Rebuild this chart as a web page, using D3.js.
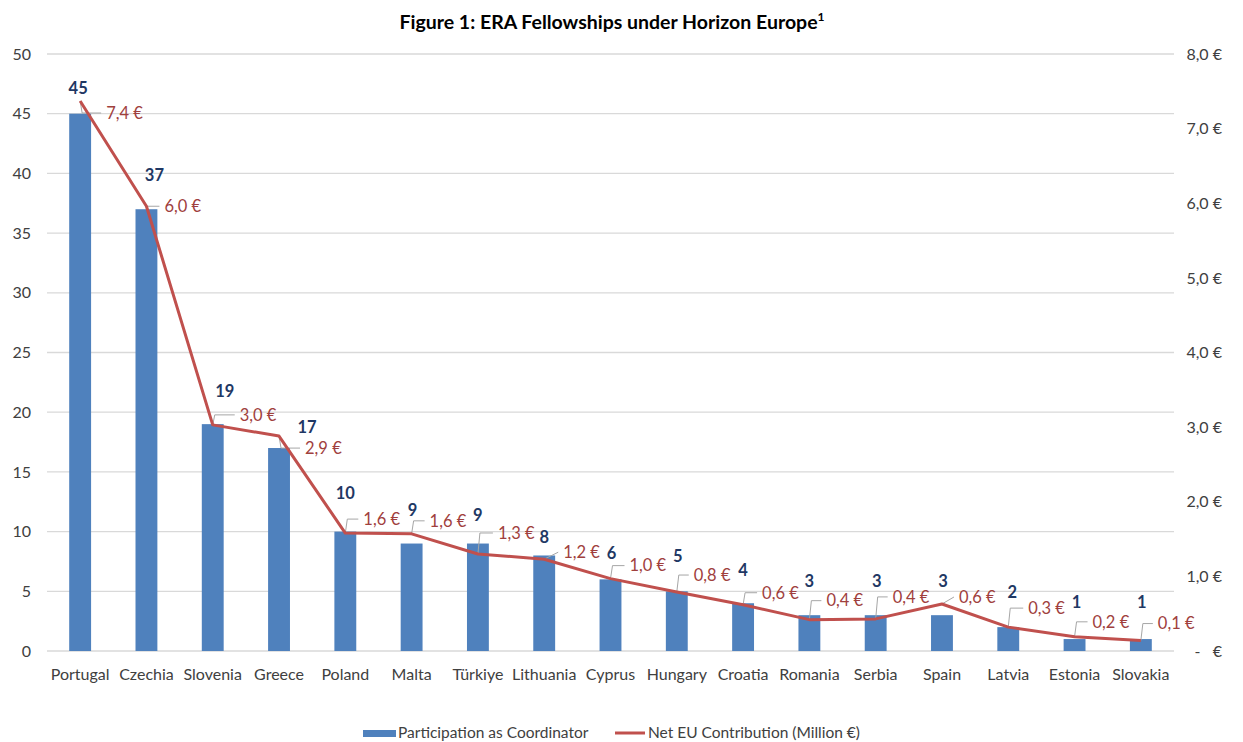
<html><head><script src="https://d3js.org/d3.v7.min.js"></script></head>
<body style="margin:0;background:white;">
<script>
// chart data
countries=["Portugal","Czechia","Slovenia","Greece","Poland","Malta","Türkiye","Lithuania","Cyprus","Hungary","Croatia","Romania","Serbia","Spain","Latvia","Estonia","Slovakia"];
coordinators=[45,37,19,17,10,9,9,8,6,5,4,3,3,3,2,1,1];
contribution=[7.37,5.96,3.03,2.88,1.58,1.57,1.30,1.23,0.97,0.79,0.62,0.42,0.43,0.63,0.32,0.19,0.14];
leftTicks=[0,5,10,15,20,25,30,35,40,45,50];
rightTicks=[0,1,2,3,4,5,6,7,8];

// where excel put the callouts (pixels from the point)
barLabelOff=[[-2,-25],[8,-34],[12,-33],[28,-21],[0,-38],[1,-33],[0,-28],[0,-18],[1,-26],[1,-35],[0,-33],[0,-34],[1,-34],[1,-34],[4,-35],[2,-37],[1,-37]];
lineLabelOff=[[26,12],[18,0],[27,-10],[26,12],[18,-14],[18,-13],[20,-21],[19,-7],[19,-13],[17,-17],[19,-12],[17,-19],[17,-22],[17,-7],[20,-19],[18,-15],[17,-17]];

W=1243;H=742;
pLeft=47;pRight=1174;pTop=54;pBottom=651;
font="Lato, 'Open Sans', sans-serif";
fs="16px";

svg=d3.select("body").append("svg")
.attr("width",W)
.attr("height",H)
.style("font-family",font);

x=d3.scaleBand().domain(countries).range([pLeft,pRight]);
y=d3.scaleLinear().domain([0,50]).range([pBottom,pTop]);
y2=d3.scaleLinear().domain([0,8]).range([pBottom,pTop]);
bw=x.bandwidth()*0.33;
cx=function(d){return x(d)+x.bandwidth()/2;};

// grid
svg.append("g")
.selectAll("line")
.data(leftTicks)
.enter()
.append("line")
.attr("x1",pLeft).attr("x2",pRight)
.attr("y1",function(d){return y(d);})
.attr("y2",function(d){return y(d);})
.attr("stroke","#d9d9d9")
.attr("stroke-width",1.3);

// left axis
ax=svg.append("g")
.attr("transform","translate(31,0)")
.call(d3.axisLeft(y).tickValues(leftTicks).tickSize(0).tickPadding(0));
ax.select(".domain").remove();
ax.selectAll("text").style("font-family",font).style("font-size",fs).attr("fill","#404040");

// right axis
eur=function(d){return d===0?"-   €":d3.format(".1f")(d).replace(".",",")+" €";};
ax2=svg.append("g")
.attr("transform","translate(1222,0)")
.call(d3.axisLeft(y2).tickValues(rightTicks).tickSize(0).tickPadding(0).tickFormat(eur));
ax2.select(".domain").remove();
ax2.selectAll("text").style("font-family",font).style("font-size",fs).style("white-space","pre").attr("fill","#404040");

// bottom axis
ax3=svg.append("g")
.attr("transform","translate(0,"+pBottom+")")
.call(d3.axisBottom(x).tickSize(0).tickPadding(18));
ax3.select(".domain").remove();
ax3.selectAll("text").style("font-family",font).style("font-size",fs).attr("fill","#404040");

// bars
svg.append("g")
.selectAll("rect")
.data(countries)
.enter()
.append("rect")
.attr("x",function(d){return cx(d)-bw/2;})
.attr("width",bw)
.attr("y",function(d,i){return y(coordinators[i]);})
.attr("height",function(d,i){return pBottom-y(coordinators[i]);})
.attr("fill","#4f81bd");

// leader lines for the euro labels
svg.append("g")
.selectAll("polyline")
.data(countries)
.enter()
.append("polyline")
.attr("points",function(d,i){
    px=cx(d);py=y2(contribution[i]);
    o=lineLabelOff[i];
    lx=px+o[0]-5;ly=py+o[1];
    if(Math.abs(o[1])<9) return [px,py,lx,ly].join(",");
    return [px,py,px+2,ly,lx,ly].join(",");
})
.attr("fill","none")
.attr("stroke","#a6a6a6")
.attr("stroke-width",1);

// line
svg.append("path")
.datum(countries)
.attr("d",d3.line()
    .x(function(d){return cx(d);})
    .y(function(d,i){return y2(contribution[i]);}))
.attr("fill","none")
.attr("stroke","#c0504d")
.attr("stroke-width",3)
.attr("stroke-linejoin","round");

// bar value labels
svg.append("g")
.selectAll("text")
.data(countries)
.enter()
.append("text")
.attr("x",function(d,i){return cx(d)+barLabelOff[i][0];})
.attr("y",function(d,i){return y(coordinators[i])+barLabelOff[i][1];})
.attr("dy","0.35em")
.attr("text-anchor","middle")
.style("font-size","16.5px")
.style("font-weight","bold")
.attr("fill","#1f3864")
.text(function(d,i){return coordinators[i];});

// euro labels
svg.append("g")
.selectAll("text")
.data(countries)
.enter()
.append("text")
.attr("x",function(d,i){return cx(d)+lineLabelOff[i][0];})
.attr("y",function(d,i){return y2(contribution[i])+lineLabelOff[i][1];})
.attr("dy","0.35em")
.style("font-size","16.5px")
.attr("fill","#a0403d")
.text(function(d,i){return eur(contribution[i]);});

// title
t=svg.append("text")
.attr("x",612)
.attr("y",29)
.attr("text-anchor","middle")
.style("font-size","19.5px")
.style("font-weight","bold")
.attr("fill","#000");
t.append("tspan").text("Figure 1: ERA Fellowships under Horizon Europe");
t.append("tspan").attr("dy","-8").style("font-size","12px").text("1");

// legend
lg=svg.append("g").style("font-size","15.5px");
lg.append("rect").attr("x",363).attr("y",730).attr("width",33).attr("height",7).attr("fill","#4f81bd");
lg.append("text").attr("x",398).attr("y",733).attr("dy","0.35em").attr("fill","#404040").text("Participation as Coordinator");
lg.append("line").attr("x1",615).attr("x2",645).attr("y1",733).attr("y2",733).attr("stroke","#c0504d").attr("stroke-width",3);
lg.append("text").attr("x",648).attr("y",733).attr("dy","0.35em").attr("fill","#404040").text("Net EU Contribution (Million €)");
</script>
</body></html>
